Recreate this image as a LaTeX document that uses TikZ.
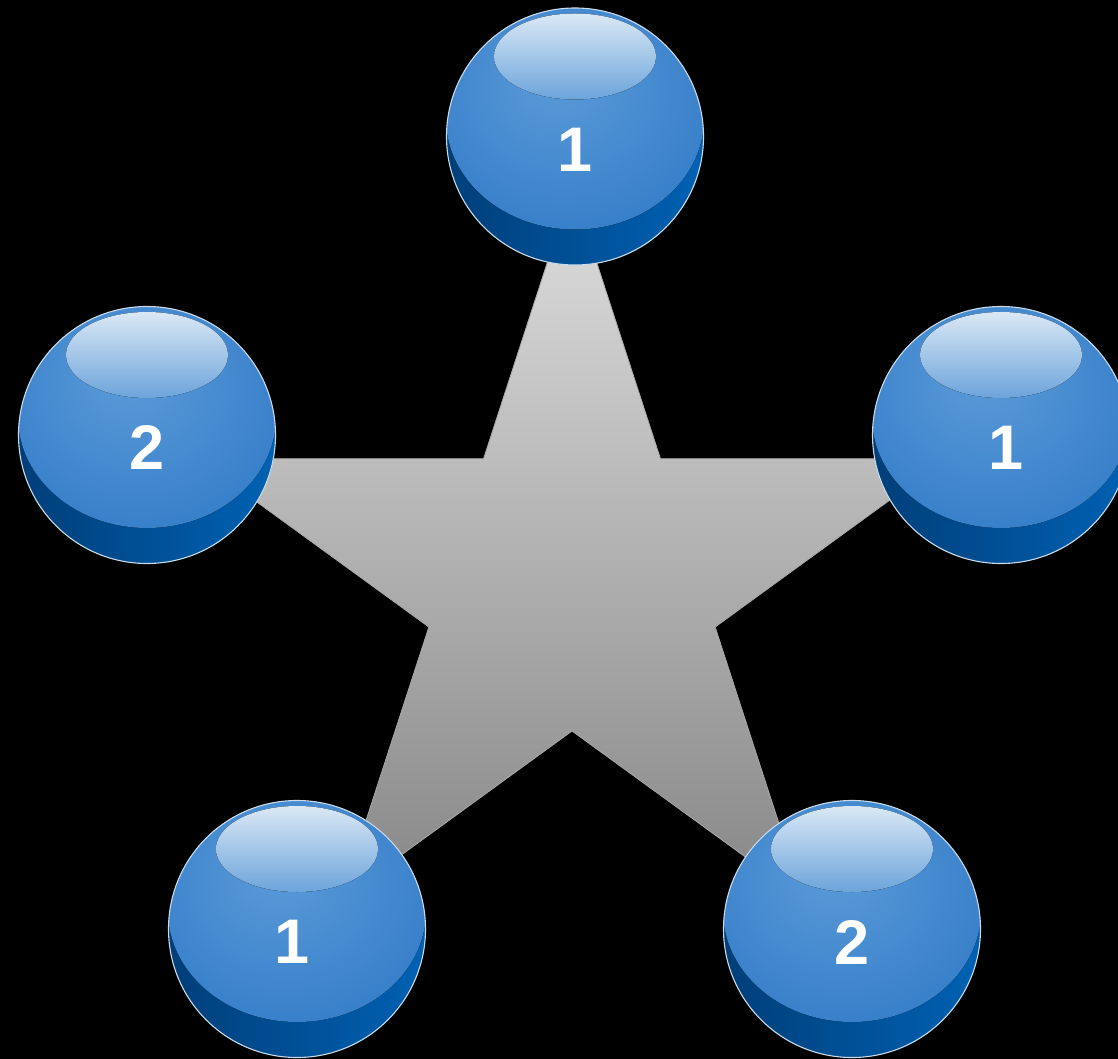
\documentclass[tikz,border=0pt]{standalone}
\usepackage{fontspec}
\setmainfont{Liberation Sans}
\definecolor{bgblack}{HTML}{000000}
\definecolor{startop}{HTML}{DEDEDE}
\definecolor{starbot}{HTML}{878787}
\definecolor{staredge}{HTML}{A8A8A8}
\definecolor{crescL}{HTML}{003E78}
\definecolor{crescR}{HTML}{0062B4}
\definecolor{bodyIn}{HTML}{5B9BD8}
\definecolor{bodyMid}{HTML}{3F85CD}
\definecolor{bodyOut}{HTML}{1A6ABC}
\definecolor{hlTop}{HTML}{DAE8F5}
\definecolor{hlBot}{HTML}{6CA4DB}
\definecolor{ballEdge}{HTML}{C9DAEA}
\pgfdeclareradialshading{ballbody}{\pgfpoint{-4bp}{10bp}}{color(0bp)=(bodyIn); color(24bp)=(bodyMid); color(54bp)=(bodyOut)}
\tikzset{
  ball/.style={circle, minimum size=257pt, inner sep=0pt, draw=ballEdge, line width=1.1pt,
    path picture={
      \coordinate (pc) at (path picture bounding box.center);
      \fill[left color=crescL, right color=crescR] ([xshift=-132pt,yshift=-132pt]pc) rectangle ([xshift=132pt,yshift=132pt]pc);
      \fill[shading=ballbody] ([yshift=18pt]pc) ellipse [x radius=129pt, y radius=111pt];
      \fill[top color=hlTop, bottom color=hlBot] ([yshift=80pt]pc) ellipse [x radius=81pt, y radius=43pt];
    }},
  num/.style={text=white, font=\fontsize{63}{63}\selectfont\bfseries, inner sep=0pt},
  starshape/.style={top color=startop, bottom color=starbot, draw=staredge, line width=0.8pt}
}
\begin{document}
\begin{tikzpicture}[x=1pt,y=1pt]
\useasboundingbox (0,0) rectangle (1118,-1059);
\fill[bgblack] (0,0) rectangle (1118,-1059);
\clip (0,0) rectangle (1118,-1059);
\begin{scope}[shift={(572,-580.5)}]
\path[starshape] (90:394) -- (126:150.5) -- (162:394) -- (198:150.5) -- (234:394) -- (270:150.5) -- (306:394) -- (342:150.5) -- (18:394) -- (54:150.5) -- cycle;
\end{scope}
\node[ball] (btop) at (575,-136.5) {};
\node[ball] (bleft) at (147,-435) {};
\node[ball] (bright) at (1001,-435) {};
\node[ball] (bbl) at (297,-929) {};
\node[ball] (bbr) at (852,-929) {};
\node[num] (ttop) at ([yshift=-13pt]btop.center) {1};
\node[num] (tleft) at ([yshift=-13pt]bleft.center) {2};
\node[num] (tright) at ([xshift=5pt,yshift=-13pt]bright.center) {1};
\node[num] (tbl) at ([xshift=-5pt,yshift=-13pt]bbl.center) {1};
\node[num] (tbr) at ([yshift=-13pt]bbr.center) {2};
\end{tikzpicture}
\end{document}
